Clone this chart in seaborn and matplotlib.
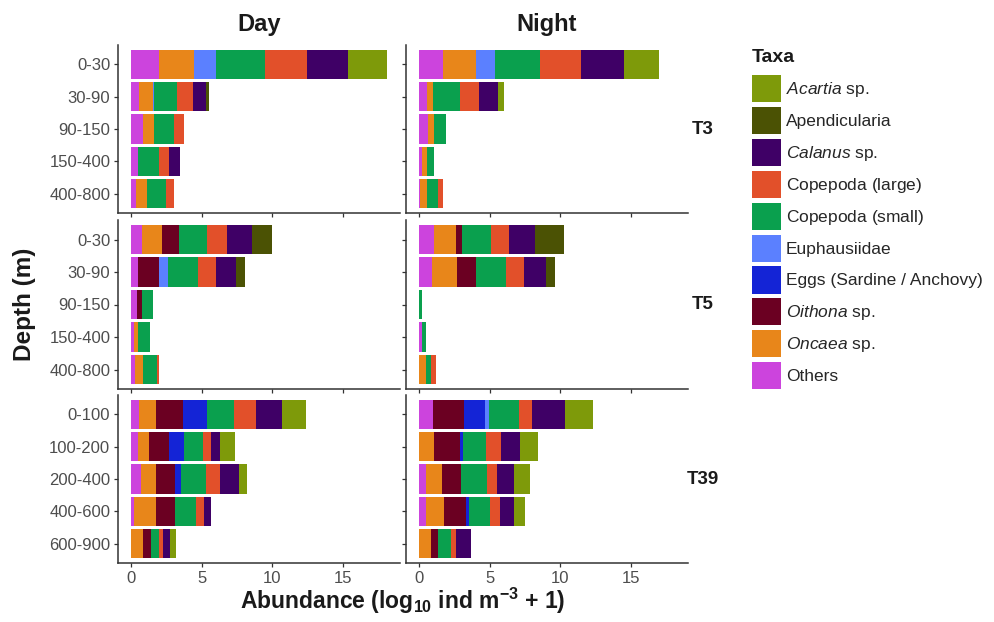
import matplotlib
matplotlib.use("Agg")
import matplotlib.pyplot as plt
from matplotlib.patches import Patch
import numpy as np
import pandas as pd
import seaborn as sns

# Taxa in stacking order (left to right within each bar)
TAXA = ["Others", "Oncaea", "Oithona", "Eggs", "Euphausiidae",
        "Copepoda small", "Copepoda large", "Calanus", "Apendicularia", "Acartia"]

COLORS = {
    "Others": "#cc44dd",
    "Oncaea": "#e8861a",
    "Oithona": "#6b0022",
    "Eggs": "#1424d6",
    "Euphausiidae": "#5b80ff",
    "Copepoda small": "#0aa04e",
    "Copepoda large": "#e2502a",
    "Calanus": "#3f0066",
    "Apendicularia": "#4b5204",
    "Acartia": "#7e9a0a",
}

LEGEND_LABELS = {
    "Acartia": r"$\mathit{Acartia}$ sp.",
    "Apendicularia": "Apendicularia",
    "Calanus": r"$\mathit{Calanus}$ sp.",
    "Copepoda large": r"Copepoda (large$\mathit{)}$",
    "Copepoda small": r"Copepoda (small$\mathit{)}$",
    "Euphausiidae": "Euphausiidae",
    "Eggs": "Eggs (Sardine / Anchovy)",
    "Oithona": r"$\mathit{Oithona}$ sp.",
    "Oncaea": r"$\mathit{Oncaea}$ sp.",
    "Others": "Others",
}

DEPTHS_T3 = ["0-30", "30-90", "90-150", "150-400", "400-800"]
DEPTHS_T5 = ["0-30", "30-90", "90-150", "150-400", "400-800"]
DEPTHS_T39 = ["0-100", "100-200", "200-400", "400-600", "600-900"]

# Abundance (log10 ind m-3 + 1), one row per depth, columns follow TAXA
T3_DAY = [
    [1.96, 2.53, 0.00, 0.00, 1.49, 3.47, 2.96, 2.95, 0.00, 2.74],
    [0.61, 0.95, 0.00, 0.00, 0.10, 1.60, 1.10, 0.95, 0.24, 0.00],
    [0.83, 0.83, 0.00, 0.00, 0.00, 1.37, 0.71, 0.00, 0.00, 0.00],
    [0.52, 0.00, 0.00, 0.00, 0.00, 1.49, 0.71, 0.73, 0.00, 0.00],
    [0.38, 0.76, 0.00, 0.00, 0.00, 1.37, 0.57, 0.00, 0.00, 0.00],
]
T3_NIGHT = [
    [1.71, 2.35, 0.00, 0.00, 1.34, 3.17, 2.89, 3.05, 0.00, 2.46],
    [0.59, 0.42, 0.00, 0.00, 0.00, 1.88, 1.34, 1.36, 0.00, 0.42],
    [0.66, 0.42, 0.00, 0.00, 0.00, 0.87, 0.00, 0.00, 0.00, 0.00],
    [0.25, 0.30, 0.00, 0.00, 0.00, 0.54, 0.00, 0.00, 0.00, 0.00],
    [0.10, 0.50, 0.00, 0.00, 0.00, 0.73, 0.40, 0.00, 0.00, 0.00],
]
T5_DAY = [
    [0.82, 1.41, 1.17, 0.00, 0.00, 2.00, 1.36, 1.83, 1.38, 0.00],
    [0.54, 0.00, 1.48, 0.00, 0.63, 2.11, 1.24, 1.41, 0.63, 0.00],
    [0.42, 0.00, 0.40, 0.00, 0.00, 0.73, 0.00, 0.00, 0.00, 0.00],
    [0.20, 0.34, 0.00, 0.00, 0.00, 0.82, 0.00, 0.00, 0.00, 0.00],
    [0.30, 0.59, 0.00, 0.00, 0.00, 0.94, 0.19, 0.00, 0.00, 0.00],
]
T5_NIGHT = [
    [1.08, 1.53, 0.47, 0.00, 0.00, 2.04, 1.22, 1.83, 2.11, 0.00],
    [0.94, 1.78, 1.34, 0.00, 0.00, 2.11, 1.24, 1.57, 0.66, 0.00],
    [0.00, 0.00, 0.00, 0.00, 0.00, 0.23, 0.00, 0.00, 0.00, 0.00],
    [0.20, 0.00, 0.00, 0.00, 0.00, 0.34, 0.00, 0.00, 0.00, 0.00],
    [0.00, 0.54, 0.00, 0.00, 0.00, 0.35, 0.30, 0.00, 0.00, 0.00],
]
T39_DAY = [
    [0.61, 1.17, 1.88, 1.69, 0.00, 1.95, 1.57, 1.81, 0.00, 1.71],
    [0.54, 0.77, 1.41, 1.03, 0.00, 1.36, 0.52, 0.66, 0.00, 1.06],
    [0.70, 1.06, 1.36, 0.40, 0.00, 1.76, 1.01, 1.36, 0.00, 0.56],
    [0.19, 1.57, 1.36, 0.00, 0.00, 1.48, 0.59, 0.45, 0.00, 0.00],
    [0.00, 0.89, 0.52, 0.00, 0.00, 0.60, 0.28, 0.47, 0.00, 0.40],
]
T39_NIGHT = [
    [1.01, 0.00, 2.16, 1.48, 0.30, 2.11, 0.94, 2.32, 0.00, 1.95],
    [0.00, 1.08, 1.81, 0.23, 0.00, 1.64, 1.06, 1.29, 0.00, 1.29],
    [0.54, 1.13, 1.29, 0.00, 0.00, 1.88, 0.70, 1.17, 0.00, 1.17],
    [0.54, 1.24, 1.57, 0.16, 0.00, 1.55, 0.70, 0.99, 0.00, 0.77],
    [0.00, 0.85, 0.52, 0.00, 0.00, 0.89, 0.40, 1.01, 0.00, 0.00],
]

PERIODS = ["Day", "Night"]
STATIONS = ["T3", "T5", "T39"]
PANELS = {
    ("T3", "Day"): (T3_DAY, DEPTHS_T3), ("T3", "Night"): (T3_NIGHT, DEPTHS_T3),
    ("T5", "Day"): (T5_DAY, DEPTHS_T5), ("T5", "Night"): (T5_NIGHT, DEPTHS_T5),
    ("T39", "Day"): (T39_DAY, DEPTHS_T39), ("T39", "Night"): (T39_NIGHT, DEPTHS_T39),
}

sns.set_style("ticks")
plt.rcParams["font.family"] = ["Liberation Sans", "DejaVu Sans"]
plt.rcParams["mathtext.fontset"] = "custom"
plt.rcParams["mathtext.rm"] = "Liberation Sans"
plt.rcParams["mathtext.it"] = "Liberation Sans:italic"
plt.rcParams["mathtext.bf"] = "Liberation Sans:bold"

W, H = 994, 622
fig = plt.figure(figsize=(W / 100, H / 100), dpi=100)

# panel frames in pixels: (left, right) per column, (top, bottom) per row
COLS = {"Day": (118, 400), "Night": (406, 688)}
ROWS = {"T3": (45, 213), "T5": (220, 389), "T39": (395, 563)}

xmax = max(sum(r) for tab, _ in PANELS.values() for r in tab)
xlim = (-0.05 * xmax, 1.05 * xmax)

AXIS_C = "#333333"
TICKLAB_C = "#4d4d4d"
TEXT_C = "#1a1a1a"


def draw_panel(ax, table, depths):
    df = pd.DataFrame(table, columns=TAXA)
    df["Depth"] = depths
    cum = df[TAXA].cumsum(axis=1)
    # overlay cumulative totals, widest first, to build the stacks
    for taxon in reversed(TAXA):
        sns.barplot(x=cum[taxon].values, y=df["Depth"].values, order=depths,
                    color=COLORS[taxon], saturation=1, width=0.9,
                    linewidth=0, errorbar=None, orient="y", ax=ax)


for station in STATIONS:
    top, bottom = ROWS[station]
    for period in PERIODS:
        left, right = COLS[period]
        ax = fig.add_axes([left / W, 1 - bottom / H, (right - left) / W, (bottom - top) / H])
        table, depths = PANELS[(station, period)]
        draw_panel(ax, table, depths)
        ax.set_xlim(*xlim)
        ax.set_ylim(len(depths) - 0.4, -0.6)
        ax.set_xticks([0, 5, 10, 15])
        ax.set_xlabel("")
        ax.set_ylabel("")
        for s in ("top", "right"):
            ax.spines[s].set_visible(False)
        for s in ("left", "bottom"):
            ax.spines[s].set_color(AXIS_C)
            ax.spines[s].set_linewidth(1.1)
        ax.tick_params(axis="both", length=3, width=0.9, color=AXIS_C,
                       labelcolor=TICKLAB_C, labelsize=12, pad=2.5)
        if period == "Night":
            ax.tick_params(axis="y", labelleft=False)
        if station != "T39":
            ax.tick_params(axis="x", labelbottom=False)
        ax.set_facecolor("white")

# column strips
for period, (left, right) in COLS.items():
    fig.text((left + right) / 2 / W, 1 - 24 / H, period, ha="center", va="center",
             fontsize=17, fontweight="bold", color=TEXT_C)
# row strips
for station, (top, bottom) in ROWS.items():
    fig.text(703 / W, 1 - (top + bottom) / 2 / H, station, ha="center", va="center",
             fontsize=13.5, fontweight="bold", color=TEXT_C)

fig.text(25 / W, 1 - 304 / H, "Depth (m)", rotation=90, ha="center", va="center",
         fontsize=17.5, fontweight="bold", color=TEXT_C)
fig.text(403 / W, 1 - 601 / H,
         r"Abundance (log$_{\mathbf{10}}$ ind m$^{\mathbf{-3}}$ + 1)",
         ha="center", va="center", fontsize=16.5, fontweight="bold", color=TEXT_C)

# legend keys (title placed separately above the keys)
handles = [Patch(facecolor=COLORS[t], edgecolor="none", label=LEGEND_LABELS[t])
           for t in reversed(TAXA)]
leg = fig.legend(handles=handles, loc="upper left",
                 bbox_to_anchor=(752 / W, 1 - 75 / H), frameon=False,
                 fontsize=12.5, handlelength=1.67, handleheight=2.02,
                 labelspacing=0.28, handletextpad=0.27, borderpad=0,
                 borderaxespad=0)
fig.text(752 / W, 1 - 57 / H, "Taxa", ha="left", va="center",
         fontsize=14, fontweight="bold", color=TEXT_C)

fig.savefig("out.png", dpi=100, facecolor="white")
